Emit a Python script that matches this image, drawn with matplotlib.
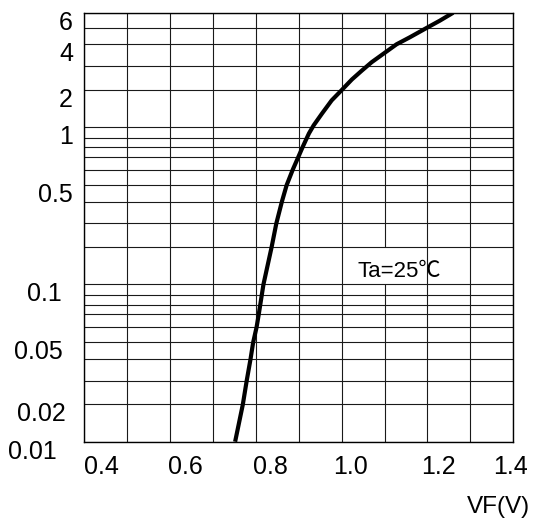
import numpy as np
import matplotlib
matplotlib.use("Agg")
import matplotlib.pyplot as plt
from matplotlib.transforms import ScaledTranslation

# ---------------------------------------------------------------------------
# Data (Ta=25C)
# ---------------------------------------------------------------------------
vf = [0.752, 0.770, 0.779, 0.788, 0.794, 0.802, 0.807, 0.818, 0.837, 0.848,
      0.861, 0.872, 0.886, 0.899, 0.909, 0.924, 0.935, 0.954, 0.977, 0.999,
      1.024, 1.047, 1.070, 1.099, 1.128, 1.159, 1.198, 1.229, 1.260]
current = [0.01, 0.02, 0.03, 0.04, 0.05, 0.06, 0.07, 0.1, 0.2, 0.3,
           0.4, 0.5, 0.6, 0.7, 0.8, 0.94, 1.05, 1.36, 1.72, 1.98,
           2.44, 2.81, 3.18, 3.59, 4.0, 4.43, 5.0, 5.48, 6.0]

x_ticks = [0.4, 0.6, 0.8, 1.0, 1.2, 1.4]
x_tick_labels = ["0.4", "0.6", "0.8", "1.0", "1.2", "1.4"]
x_grid = [0.4, 0.5, 0.6, 0.7, 0.8, 0.9, 1.0, 1.1, 1.2, 1.3, 1.4]

y_ticks = [0.01, 0.02, 0.05, 0.1, 0.5, 1, 2, 4, 6]
y_tick_labels = ["0.01", "0.02", "0.05", "0.1", "0.5", "1", "2", "4", "6"]
y_grid = [0.01, 0.02, 0.03, 0.04, 0.05, 0.06, 0.07, 0.08, 0.09,
          0.1, 0.2, 0.3, 0.4, 0.5, 0.6, 0.7, 0.8, 0.9,
          1, 2, 3, 4, 5, 6]

# the printed log paper is not a true log: position of 1..10 inside a decade
MANT = np.array([1, 2, 3, 4, 5, 6, 7, 8, 9, 10], dtype=float)
FRAC = np.array([0, 0.237, 0.388, 0.527, 0.631, 0.728, 0.809, 0.872, 0.934, 1.0])


def fwd(v):
    v = np.clip(np.asarray(v, dtype=float), 1e-12, None)
    d = np.floor(np.log10(v))
    return d + np.interp(v / 10.0 ** d, MANT, FRAC)


def inv(u):
    u = np.asarray(u, dtype=float)
    d = np.floor(u)
    return np.interp(u - d, FRAC, MANT) * 10.0 ** d


# label nudges in pixels - the datasheet places them by hand
x_nudge = [17, 16, 15, 9, 11, -3]
y_nudge = [-16, -7, -10, -11, 0, 0, 0, 0, 0]

W, H = 535, 524
fig = plt.figure(figsize=(W / 100, H / 100), dpi=100)
ax = fig.add_axes([84 / W, (H - 441.7) / H, (513.3 - 84) / W, (441.7 - 12.7) / H])
ax.set_yscale("function", functions=(fwd, inv))
ax.set_xlim(0.4, 1.4)
ax.set_ylim(0.01, 6)

grid_kw = dict(color="#1a1a1a", linewidth=0.8, zorder=1)
ax.hlines(y_grid, 0.4, 1.4, **grid_kw)
for gx in x_grid:
    if abs(gx - 1.1) < 1e-9:
        # gap behind the temperature note
        ax.vlines(gx, 0.01, 0.1, **grid_kw)
        ax.vlines(gx, 0.2, 6, **grid_kw)
    else:
        ax.vlines(gx, 0.01, 6, **grid_kw)

ax.plot(vf, current, color="black", linewidth=3.0, zorder=3,
        solid_joinstyle="round", solid_capstyle="butt")

ax.text(1.036, 0.136, "Ta=25℃", fontsize=16, va="center", ha="left",
        family=["Liberation Sans", "Noto Sans CJK SC"])

for s in ax.spines.values():
    s.set_linewidth(1.0)
    s.set_color("black")

ax.set_xticks(x_ticks, labels=x_tick_labels)
ax.set_yticks(y_ticks, labels=y_tick_labels)
ax.minorticks_off()
ax.tick_params(length=0, labelsize=18)
ax.tick_params(axis="x", pad=9.5)
ax.tick_params(axis="y", pad=8)
for lab in ax.get_xticklabels() + ax.get_yticklabels():
    lab.set_family("Liberation Sans")

for lab, dx in zip(ax.get_xticklabels(), x_nudge):
    lab.set_transform(lab.get_transform() + ScaledTranslation(dx / 100, 0, fig.dpi_scale_trans))
for lab, dx in zip(ax.get_yticklabels(), y_nudge):
    lab.set_transform(lab.get_transform() + ScaledTranslation(dx / 100, -7.5 / 100, fig.dpi_scale_trans))

fig.text(530 / W, 1 - 506.5 / H, "VF(V)", fontsize=17.5, ha="right", va="center",
         family="Liberation Sans")

fig.savefig("out.png", dpi=100)
